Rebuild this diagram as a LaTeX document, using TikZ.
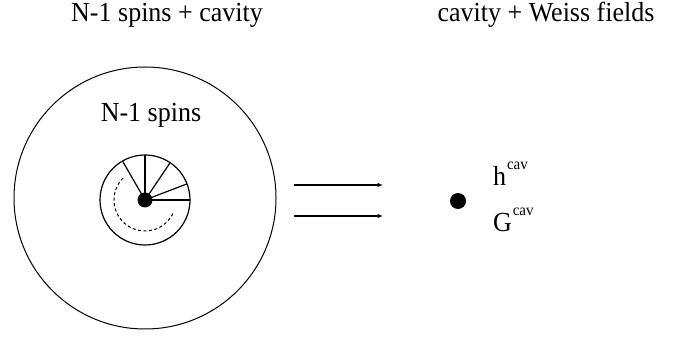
\documentclass[tikz,border=0pt]{standalone}
\usepackage{fontspec}
\setmainfont{Liberation Serif}
\usetikzlibrary{arrows.meta,calc}
\newcommand{\tallt}[1]{\scalebox{1}[1.06]{#1}}
\newcommand{\supcav}[1]{#1\hspace{0.8pt}\raisebox{16pt}{\fontsize{15}{16}\selectfont cav}}
\begin{document}
\begin{tikzpicture}[x=1pt,y=1pt,
  lbl/.style={inner sep=0pt,font=\fontsize{26}{30}\selectfont},
  dotnode/.style={circle,fill=black,inner sep=0pt},
  spoke/.style={line width=1.2pt},
  flow/.style={line width=1.4pt,-{Latex[length=5.5pt,width=4.5pt]}}]
\useasboundingbox (0,0) rectangle (680,337);
% titles
\node[lbl,anchor=base] (t1) at (167,315) {\tallt{N-1 spins + cavity}};
\node[lbl,anchor=base] (t2) at (546,315) {\tallt{cavity + Weiss fields}};
% big circle
\node[circle,draw,line width=1pt,minimum size=262pt,inner sep=0pt] (big) at (145,139) {};
\node[lbl,anchor=base] (inner) at (151,215) {\tallt{N-1 spins}};
% small circle
\coordinate (c) at (145,137);
\node[circle,draw,line width=1.2pt,minimum size=90pt,inner sep=0pt] (small) at (c) {};
\draw[spoke] (c) -- ++(0:45);
\draw[spoke] (c) -- ++(21:45);
\draw[spoke] (c) -- ++(56:45);
\draw[spoke] (c) -- ++(90:45);
\draw[spoke] (c) -- ++(120:45);
\draw[line width=1pt,dash pattern=on 3pt off 2.5pt] ($(c)+(135:31)$) arc[start angle=135,end angle=337,radius=31];
\node[dotnode,minimum size=15pt] (d1) at (c) {};
% arrows
\coordinate (a1s) at (294,152);
\coordinate (a1e) at (383,152);
\coordinate (a2s) at (294,121);
\coordinate (a2e) at (383,121);
\draw[flow] (a1s) -- (a1e);
\draw[flow] (a2s) -- (a2e);
% right side
\node[dotnode,minimum size=16pt] (d2) at (458,136) {};
\node[lbl,anchor=base west] (h) at (493,151) {\tallt{\supcav{h}}};
\node[lbl,anchor=base west] (G) at (493,105) {\tallt{\supcav{G}}};
\end{tikzpicture}
\end{document}
